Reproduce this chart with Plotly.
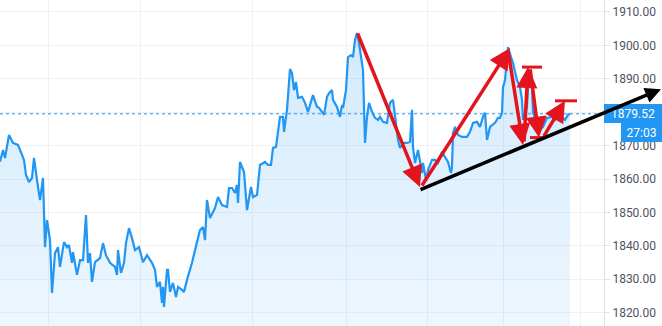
import plotly.graph_objects as go

# ---------------- data ----------------
t = [0, 3, 5, 9, 13, 18, 22, 24, 26, 29, 32, 34, 37, 40, 43, 45, 47, 50, 52, 55,
     58, 60, 64, 67, 69, 72, 73, 77, 80, 83, 86, 88, 90, 92, 95, 100, 103, 106, 110, 115,
     117, 118, 121, 124, 126, 129, 132, 135, 139, 143, 147, 152, 155, 157, 160, 162, 163, 164, 167, 168,
     170, 173, 176, 178, 182, 184, 187, 192, 197, 200, 203, 205, 207, 210, 215, 218, 222, 227, 229, 232,
     235, 237, 238, 240, 244, 247, 251, 253, 257, 260, 265, 268, 271, 273, 276, 280, 283, 284, 287, 290,
     292, 294, 296, 298, 302, 305, 308, 312, 313, 317, 319, 322, 324, 327, 329, 332, 333, 337, 340, 342,
     343, 346, 348, 351, 353, 355, 357, 359, 361, 363, 365, 367, 369, 372, 375, 378, 380, 383, 387, 390,
     393, 395, 398, 400, 403, 407, 410, 412, 413, 415, 418, 422, 423, 426, 428, 432, 435, 438, 442, 445,
     448, 451, 452, 453, 455, 458, 462, 467, 470, 473, 477, 480, 483, 485, 487, 490, 495, 498, 500, 502,
     503, 505, 507, 508, 511, 513, 517, 520, 522, 523, 527, 528, 530, 532, 533, 537, 540, 543, 547, 552,
     555, 558, 562, 565, 568, 570]
price = [1865.2, 1868.7, 1866.3, 1873.2, 1870.8, 1870.2, 1867.2, 1865.7, 1861.2, 1859.1,
         1860.3, 1866.3, 1859.7, 1853.7, 1860.3, 1839.6, 1847.7, 1841.7, 1825.9, 1837.8,
         1839.6, 1833.7, 1841.1, 1839.6, 1840.2, 1834.9, 1838.1, 1831.3, 1835.7, 1835.7,
         1849.2, 1834.9, 1837.8, 1829.2, 1835.1, 1836.3, 1840.8, 1837.2, 1834.9, 1833.7,
         1831.3, 1838.7, 1831.9, 1834.9, 1840.8, 1845.3, 1842.3, 1838.7, 1839.6, 1835.1,
         1837.2, 1834.9, 1832.8, 1827.7, 1829.2, 1822.9, 1827.7, 1821.7, 1832.8, 1832.8,
         1826.2, 1828.9, 1824.7, 1827.7, 1826.8, 1826.2, 1829.8, 1834.9, 1841.1, 1844.7,
         1845.6, 1841.7, 1853.7, 1848.3, 1851.3, 1854.6, 1852.2, 1851.6, 1857.3, 1857.3,
         1855.8, 1858.2, 1852.8, 1865.1, 1862.1, 1850.7, 1857.6, 1854.6, 1855.2, 1864.2,
         1865.1, 1864.2, 1864.2, 1869.3, 1869.6, 1878.6, 1878.6, 1874.1, 1880.7, 1892.9,
         1891.7, 1886.6, 1889.0, 1884.3, 1884.6, 1882.8, 1880.1, 1883.7, 1885.1, 1881.6,
         1881.3, 1880.1, 1879.2, 1884.6, 1885.7, 1886.6, 1883.7, 1881.6, 1878.6, 1882.2,
         1881.3, 1886.6, 1896.5, 1897.1, 1896.5, 1901.6, 1903.7, 1900.7, 1896.5, 1892.6,
         1870.8, 1878.6, 1882.8, 1880.1, 1878.3, 1877.7, 1878.6, 1877.1, 1876.8, 1882.8,
         1883.7, 1878.6, 1871.7, 1869.3, 1870.8, 1870.8, 1871.1, 1880.7, 1869.6, 1864.8,
         1868.7, 1861.8, 1864.8, 1859.7, 1862.7, 1865.7, 1865.7, 1864.8, 1868.1, 1866.6,
         1865.1, 1861.8, 1863.6, 1873.8, 1875.6, 1873.2, 1872.6, 1872.6, 1874.1, 1876.8,
         1877.1, 1875.6, 1878.6, 1879.8, 1871.7, 1875.6, 1876.8, 1878.3, 1878.3, 1879.8,
         1887.5, 1889.6, 1895.6, 1899.5, 1896.5, 1894.7, 1889.6, 1887.5, 1883.7, 1877.7,
         1881.6, 1887.5, 1892.6, 1887.5, 1879.8, 1876.8, 1874.7, 1875.6, 1878.3, 1878.6,
         1877.7, 1879.8, 1878.6, 1877.7, 1879.2, 1879.52]

last_price = 1879.52
countdown = "27:03"
y_ticks = [1820, 1830, 1840, 1850, 1860, 1870, 1880, 1890, 1900, 1910]
session_breaks = [48.7, 140.3, 252.7, 346, 427.3, 503.3, 580.7]

# hand-drawn red arrows: (x_tail, price_tail, x_head, price_head)
red_arrows = [
    (357, 1904.0, 420, 1857.6),
    (421, 1857.6, 510, 1899.2),
    (508, 1898.6, 523, 1870.2),
    (524, 1870.8, 528, 1893.5),
    (530, 1893.3, 539, 1872.4),
    (543, 1872.4, 565, 1883.4),
]
# short horizontal red marks: (x_start, x_end, price)
red_caps = [(522, 542, 1893.5), (530, 545, 1872.4), (555, 577, 1883.4)]
# black trend line: tail point (x, price), head price at right edge
trend_tail = (419, 1856.9)
trend_head_price = 1886.9

RED = "#e3141e"
BLUE = "#2196F3"

fig = go.Figure()
fig.add_trace(go.Scatter(
    x=t, y=price, mode="lines",
    line=dict(color=BLUE, width=2.2),
    fill="tozeroy",
    fillgradient=dict(type="vertical", start=1816, stop=1905,
                      colorscale=[[0, "rgba(33,150,243,0.08)"], [1, "rgba(33,150,243,0.2)"]]),
    hoverinfo="skip", showlegend=False,
))

shapes = [dict(type="line", xref="paper", x0=0, x1=1, yref="y", y0=last_price, y1=last_price,
               line=dict(color=BLUE, width=1, dash="dot"))]
for x0, x1, yv in red_caps:
    shapes.append(dict(type="line", xref="x", yref="y", x0=x0, x1=x1, y0=yv, y1=yv,
                       line=dict(color=RED, width=3)))

W = 604.0
annotations = []
annotations.append(dict(x=1, xanchor="left", xref="paper", y=last_price, yref="y",
                        text=f"{last_price:.2f}", showarrow=False, bgcolor=BLUE,
                        bordercolor=BLUE, borderwidth=1, borderpad=0, width=56, height=17,
                        font=dict(color="white", size=12, family="Roboto")))
annotations.append(dict(x=662 / W, xanchor="right", xref="paper", y=last_price, yref="y",
                        yshift=-19, text=countdown, showarrow=False, bgcolor=BLUE,
                        bordercolor=BLUE, borderwidth=1, borderpad=0, width=39, height=17,
                        font=dict(color="white", size=12, family="Roboto")))

for xt, yt, xh, yh in red_arrows:
    annotations.append(dict(x=xh, y=yh, ax=xt, ay=yt, xref="x", yref="y", axref="x", ayref="y",
                            text="", showarrow=True, arrowhead=2, arrowsize=1.2, arrowwidth=3.5,
                            arrowcolor=RED, standoff=0, startstandoff=0))

annotations.append(dict(x=662 / W, y=trend_head_price, xref="paper", yref="y",
                        ax=trend_tail[0] - 662, ay=101, axref="pixel", ayref="pixel",
                        text="", showarrow=True, arrowhead=2, arrowsize=0.9, arrowwidth=3.5,
                        arrowcolor="black", standoff=0))

fig.update_layout(
    width=662, height=326,
    margin=dict(l=0, r=58, t=0, b=0),
    paper_bgcolor="white", plot_bgcolor="white",
    shapes=shapes, annotations=annotations,
    xaxis=dict(range=[0, W], tickvals=session_breaks, showticklabels=False, ticks="",
               showgrid=True, gridcolor="#f0f1f4", gridwidth=1, zeroline=False, showline=False),
    yaxis=dict(range=[1815.99, 1913.59], side="right", tickvals=y_ticks, tickformat=".2f",
               ticks="outside", ticklen=5, tickcolor="#e0e3eb", showline=True, linecolor="#e0e3eb",
               linewidth=1, showgrid=True, gridcolor="#f0f1f4", zeroline=False,
               tickfont=dict(family="Roboto", size=12, color="#50535e")),
    showlegend=False,
)

fig.write_html("out.html")
